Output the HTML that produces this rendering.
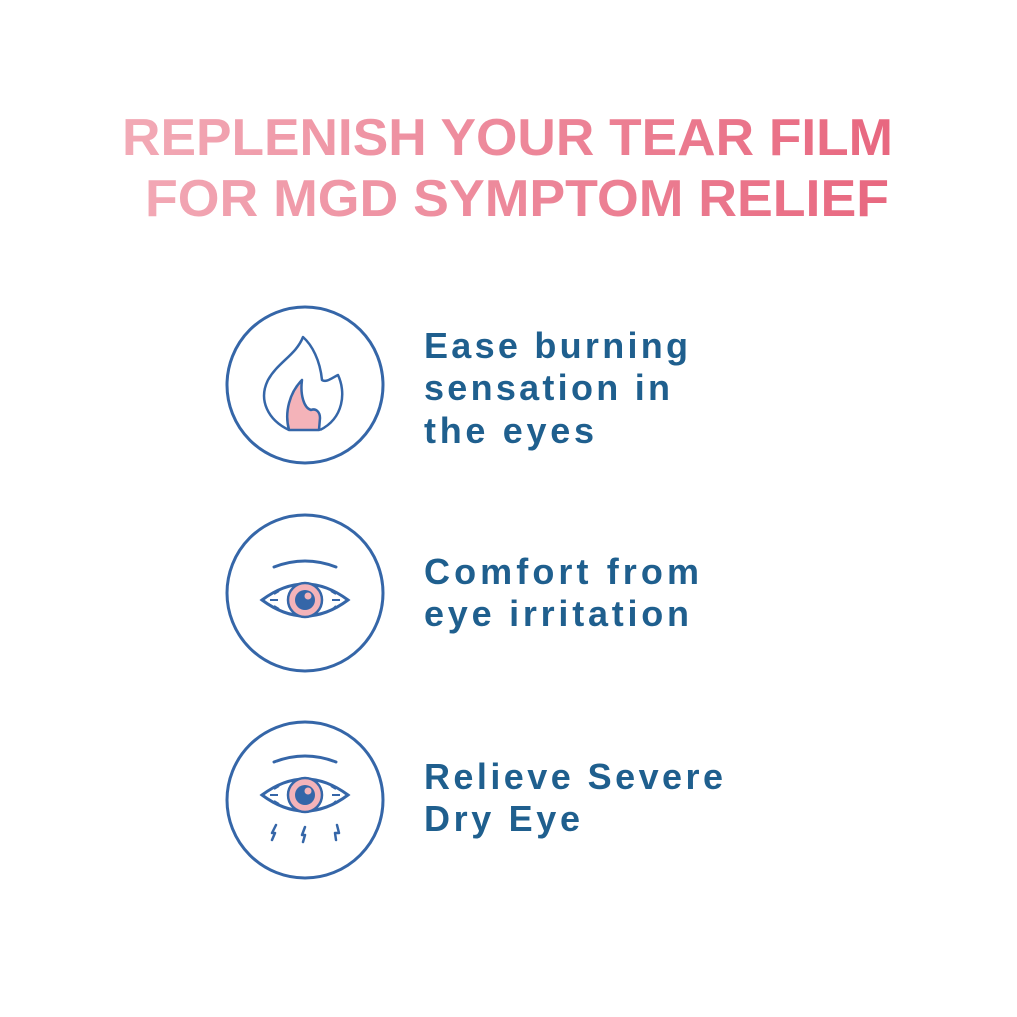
<!DOCTYPE html>
<html><head><meta charset="utf-8"><style>html,body{margin:0;padding:0;background:#fff}svg{display:block}</style></head>
<body>
<svg width="1017" height="1017" viewBox="0 0 1017 1017" xmlns="http://www.w3.org/2000/svg">
<defs>
<linearGradient id="g" x1="120" y1="0" x2="900" y2="0" gradientUnits="userSpaceOnUse">
<stop offset="0" stop-color="#f2aab6"/><stop offset="1" stop-color="#e8677f"/>
</linearGradient>
</defs>
<rect width="1017" height="1017" fill="#fff"/>
<g font-family="Liberation Sans, sans-serif" font-weight="bold" fill="url(#g)" font-size="52">
<text x="122" y="155" textLength="771" lengthAdjust="spacingAndGlyphs">REPLENISH YOUR TEAR FILM</text>
<text x="145" y="216" textLength="744" lengthAdjust="spacingAndGlyphs">FOR MGD SYMPTOM RELIEF</text>
</g>
<g font-family="Liberation Sans, sans-serif" font-weight="bold" fill="#1f5f8e" font-size="36">
<text x="424" y="358" textLength="264" lengthAdjust="spacing">Ease burning</text>
<text x="424" y="400" textLength="246" lengthAdjust="spacing">sensation in</text>
<text x="424" y="443" textLength="170" lengthAdjust="spacing">the eyes</text>
<text x="424" y="584" textLength="275" lengthAdjust="spacing">Comfort from</text>
<text x="424" y="626" textLength="265" lengthAdjust="spacing">eye irritation</text>
<text x="424" y="789" textLength="299" lengthAdjust="spacing">Relieve Severe</text>
<text x="424" y="831" textLength="156" lengthAdjust="spacing">Dry Eye</text>
</g>
<g fill="none" stroke="#3566a8" stroke-width="3">
<circle cx="305" cy="385" r="78"/>
<circle cx="305" cy="593" r="78"/>
<circle cx="305" cy="800" r="78"/>
</g>
<!-- flame -->
<path d="M289 430 C284 412 290 392 302 380 C300 395 304 408 311 410 C316 408 320 412 320 418 L319 430 Z" fill="#f4b3b9" stroke="#3566a8" stroke-width="2.5" stroke-linejoin="round"/>
<path d="M289 430 C268 420 258 400 268 380 C278 362 296 355 303 337 C312 345 320 360 322 380 C326 383 332 378 338 375 C346 392 344 418 320 430" fill="none" stroke="#3566a8" stroke-width="2.5" stroke-linejoin="round"/>
<!-- eyes -->
<g id="eye">
<path d="M274 567 Q305 555 336 567" fill="none" stroke="#3566a8" stroke-width="3" stroke-linecap="round"/>
<path d="M262 600 Q305 568 348 600 Q305 632 262 600 Z" fill="#fff" stroke="#3566a8" stroke-width="3"/>
<circle cx="305" cy="600" r="17" fill="#f4b3b9" stroke="#3566a8" stroke-width="2.5"/>
<circle cx="305" cy="600" r="10" fill="#3566a8"/>
<circle cx="308" cy="596" r="3.5" fill="#f4b3b9"/>
<path d="M270 600 h8 M274 594 l5 -3 M274 606 l5 3 M340 600 h-8 M336 594 l-5 -3 M336 606 l-4 4" stroke="#3566a8" stroke-width="2" fill="none"/>
</g>
<use href="#eye" y="195"/>
<g stroke="#3566a8" stroke-width="2.5" fill="none" stroke-linecap="round" stroke-linejoin="round">
<path d="M272 840 l3 -7 l-3 0 l4 -8"/>
<path d="M303 842 l2 -7 l-3 0 l3 -8"/>
<path d="M336 840 l-1 -7 l4 0 l-2 -8"/>
</g>
</svg>
</body></html>
